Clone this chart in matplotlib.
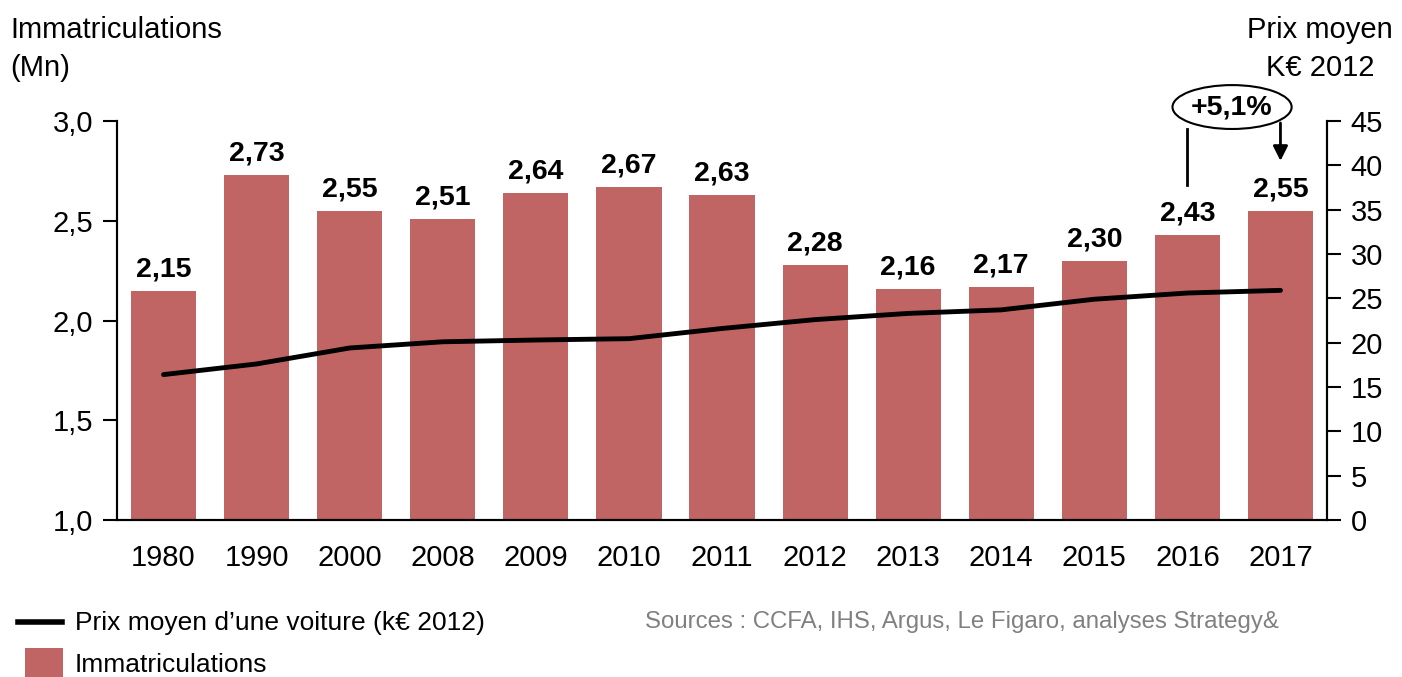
import matplotlib.pyplot as plt
from matplotlib.patches import Ellipse, Rectangle
from matplotlib.lines import Line2D

plt.rcParams['font.family'] = ['Liberation Sans', 'DejaVu Sans']

annees = ['1980', '1990', '2000', '2008', '2009', '2010', '2011',
          '2012', '2013', '2014', '2015', '2016', '2017']
immatriculations = [2.15, 2.73, 2.55, 2.51, 2.64, 2.67, 2.63,
                    2.28, 2.16, 2.17, 2.30, 2.43, 2.55]
prix_moyen = [16.4, 17.6, 19.4, 20.1, 20.3, 20.45, 21.6,
              22.6, 23.3, 23.7, 24.9, 25.6, 25.9]

rouge = '#C06464'
W, H = 1402, 677

fig = plt.figure(figsize=(W / 100, H / 100), dpi=100)
ax = fig.add_axes([117 / W, 1 - 520 / H, (1327 - 117) / W, (520 - 121) / H])
ax2 = ax.twinx()

x = list(range(len(annees)))
ax.bar(x, [v - 1.0 for v in immatriculations], bottom=1.0, width=0.7,
       color=rouge, zorder=2)
for xi, v in zip(x, immatriculations):
    ax.annotate(f'{v:.2f}'.replace('.', ','), (xi, v), xytext=(0, 6),
                textcoords='offset points', ha='center', va='bottom',
                fontsize=20.5, fontweight='bold')

ax2.plot(x, prix_moyen, color='black', lw=3.5, solid_capstyle='round')

ax.set_xlim(-0.5, 12.5)
ax.set_ylim(1.0, 3.0)
ax.set_yticks([1.0, 1.5, 2.0, 2.5, 3.0])
ax.set_yticklabels(['1,0', '1,5', '2,0', '2,5', '3,0'])
ax.set_xticks(x)
ax.set_xticklabels(annees)
ax2.set_ylim(0, 45)
ax2.set_yticks(range(0, 50, 5))

for a in (ax, ax2):
    a.spines['top'].set_visible(False)
    a.tick_params(labelsize=21, width=1.5, length=10, direction='out', pad=7)
    for s in a.spines.values():
        s.set_linewidth(1.5)
ax.tick_params(axis='x', length=0, pad=17)

# en-tetes des axes
fig.text(10 / W, 1 - 16 / H, 'Immatriculations\n(Mn)', ha='left', va='top',
         fontsize=21, linespacing=1.45)
fig.text(1320 / W, 1 - 16 / H, 'Prix moyen\nK€ 2012', ha='center', va='top',
         fontsize=21, linespacing=1.45)

# annotation +5,1%
ax.add_patch(Ellipse((11.48, 3.07), 1.28, 0.22, facecolor='white',
                     edgecolor='black', lw=1.5, clip_on=False, zorder=5))
ax.text(11.48, 3.07, '+5,1%', ha='center', va='center', fontsize=20.5,
        fontweight='bold', zorder=6)
ax.plot([11, 11], [2.96, 2.68], color='black', lw=2, clip_on=False)
ax.annotate('', xy=(12, 2.80), xytext=(12, 2.99),
            arrowprops=dict(arrowstyle='-|>', color='black', lw=2,
                            mutation_scale=22, shrinkA=0, shrinkB=0),
            annotation_clip=False)

# legende
fig.add_artist(Line2D([18 / W, 62 / W], [1 - 622 / H, 1 - 622 / H],
                      color='black', lw=4))
fig.text(75 / W, 1 - 623 / H, 'Prix moyen d\u2019une voiture (k€ 2012)',
         ha='left', va='center', fontsize=19)
fig.add_artist(Rectangle((25 / W, 1 - 678 / H), 38 / W, 30 / H,
                         facecolor=rouge, edgecolor='none'))
fig.text(75 / W, 1 - 665 / H, 'Immatriculations', ha='left', va='center',
         fontsize=19)
fig.text(645 / W, 1 - 622 / H,
         'Sources : CCFA, IHS, Argus, Le Figaro, analyses Strategy&',
         ha='left', va='center', fontsize=17.3, color='#808080')

fig.savefig('out.png', dpi=100)
